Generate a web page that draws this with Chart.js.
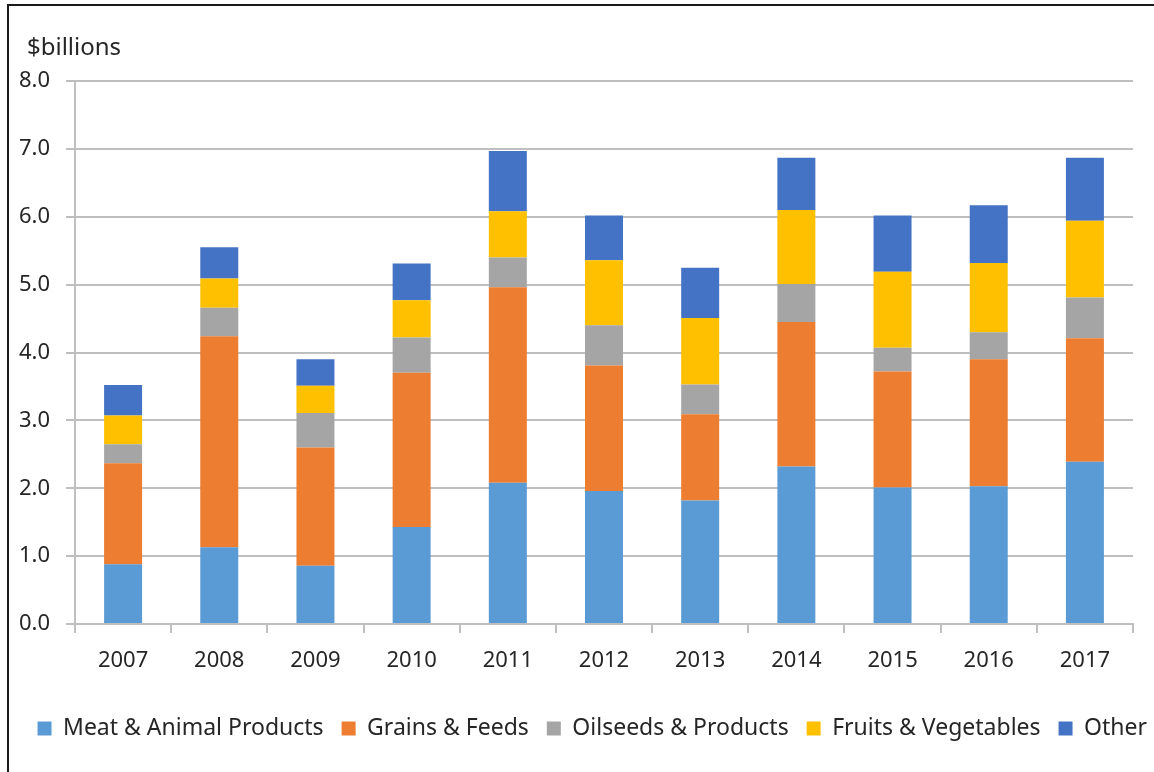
<!DOCTYPE html>
<html>
<head>
<meta charset="utf-8">
<script src="https://cdn.jsdelivr.net/npm/chart.js@4.4.1/dist/chart.umd.min.js"></script>
<style>
  html, body { margin: 0; padding: 0; background: #fff; }
  #wrap { position: relative; width: 1154px; height: 772px; overflow: hidden; }
  #frame { position: absolute; left: 7px; top: 4px; width: 1200px; height: 800px; border-left: 2px solid #1a1a1a; border-top: 2px solid #1a1a1a; box-sizing: border-box; }
  canvas { position: absolute; left: 0; top: 0; }
</style>
</head>
<body>
<div id="wrap">
  <div id="frame"></div>
  <canvas id="c" width="1154" height="772"></canvas>
</div>
<script>
const years = ['2007','2008','2009','2010','2011','2012','2013','2014','2015','2016','2017'];
const meatAnimal = [0.88, 1.13, 0.86, 1.43, 2.08, 1.96, 1.82, 2.32, 2.01, 2.03, 2.39];
const grainsFeeds = [1.49, 3.11, 1.74, 2.27, 2.88, 1.85, 1.27, 2.13, 1.71, 1.87, 1.82];
const oilseeds = [0.28, 0.42, 0.51, 0.52, 0.44, 0.59, 0.44, 0.56, 0.35, 0.40, 0.60];
const fruitsVeg = [0.42, 0.43, 0.40, 0.55, 0.68, 0.96, 0.98, 1.09, 1.12, 1.02, 1.13];
const other = [0.45, 0.46, 0.39, 0.54, 0.89, 0.66, 0.74, 0.77, 0.83, 0.85, 0.93];
const yUnitLabel = '$billions';

const FONT = 'Noto Sans';
const TXT = '#262626';
const GRID = '#bfbfbf';

const unitLabelPlugin = {
  id: 'unitLabel',
  afterDraw(chart) {
    const ctx = chart.ctx;
    ctx.save();
    ctx.font = '24px "' + FONT + '"';
    ctx.fillStyle = TXT;
    ctx.textBaseline = 'middle';
    ctx.textAlign = 'left';
    ctx.fillText(yUnitLabel, chart.chartArea.left - 48, chart.chartArea.top - 33);
    ctx.restore();
  }
};

const mk = (label, data, color) => ({ label, data, backgroundColor: color, borderWidth: 0, categoryPercentage: 1, barPercentage: 0.395, yAxisID: 'y' });

new Chart(document.getElementById('c'), {
  type: 'bar',
  data: {
    labels: years,
    datasets: [
      mk('Meat & Animal Products', meatAnimal, '#5B9BD5'),
      mk('Grains & Feeds', grainsFeeds, '#ED7D31'),
      mk('Oilseeds & Products', oilseeds, '#A5A5A5'),
      mk('Fruits & Vegetables', fruitsVeg, '#FFC000'),
      mk('Other', other, '#4472C4')
    ]
  },
  options: {
    responsive: false,
    animation: false,
    devicePixelRatio: 1,
    layout: { padding: { left: 0, right: -11, top: 81, bottom: 22 } },
    plugins: {
      legend: {
        position: 'bottom',
        align: 'end',
        labels: { font: { family: FONT, size: 23 }, color: TXT, boxWidth: 14, boxHeight: 14, padding: 18 }
      },
      tooltip: { enabled: false },
      title: { display: false }
    },
    scales: {
      x: {
        stacked: true,
        grid: { offset: true, drawOnChartArea: false, drawTicks: true, tickLength: 9, color: GRID, lineWidth: 2 },
        border: { display: true, color: GRID, width: 2 },
        ticks: { font: { family: FONT, size: 22 }, color: TXT, padding: 15 },
        afterFit(s) { s.height = 75; }
      },
      y: {
        stacked: true,
        position: 'left',
        min: 0, max: 8,
        grid: { color: GRID, lineWidth: 2, tickLength: 9 },
        border: { display: true, color: GRID, width: 2 },
        ticks: { stepSize: 1, font: { family: FONT, size: 22 }, color: TXT, padding: 16, callback: v => Number(v).toFixed(1) },
        afterFit(s) { s.width = 75; }
      },
      spacer: {
        type: 'linear',
        position: 'right',
        display: true,
        grid: { display: false, drawTicks: false },
        border: { display: false },
        ticks: { display: false },
        afterFit(s) { s.width = 32; }
      }
    }
  },
  plugins: [unitLabelPlugin]
});
</script>
</body>
</html>
